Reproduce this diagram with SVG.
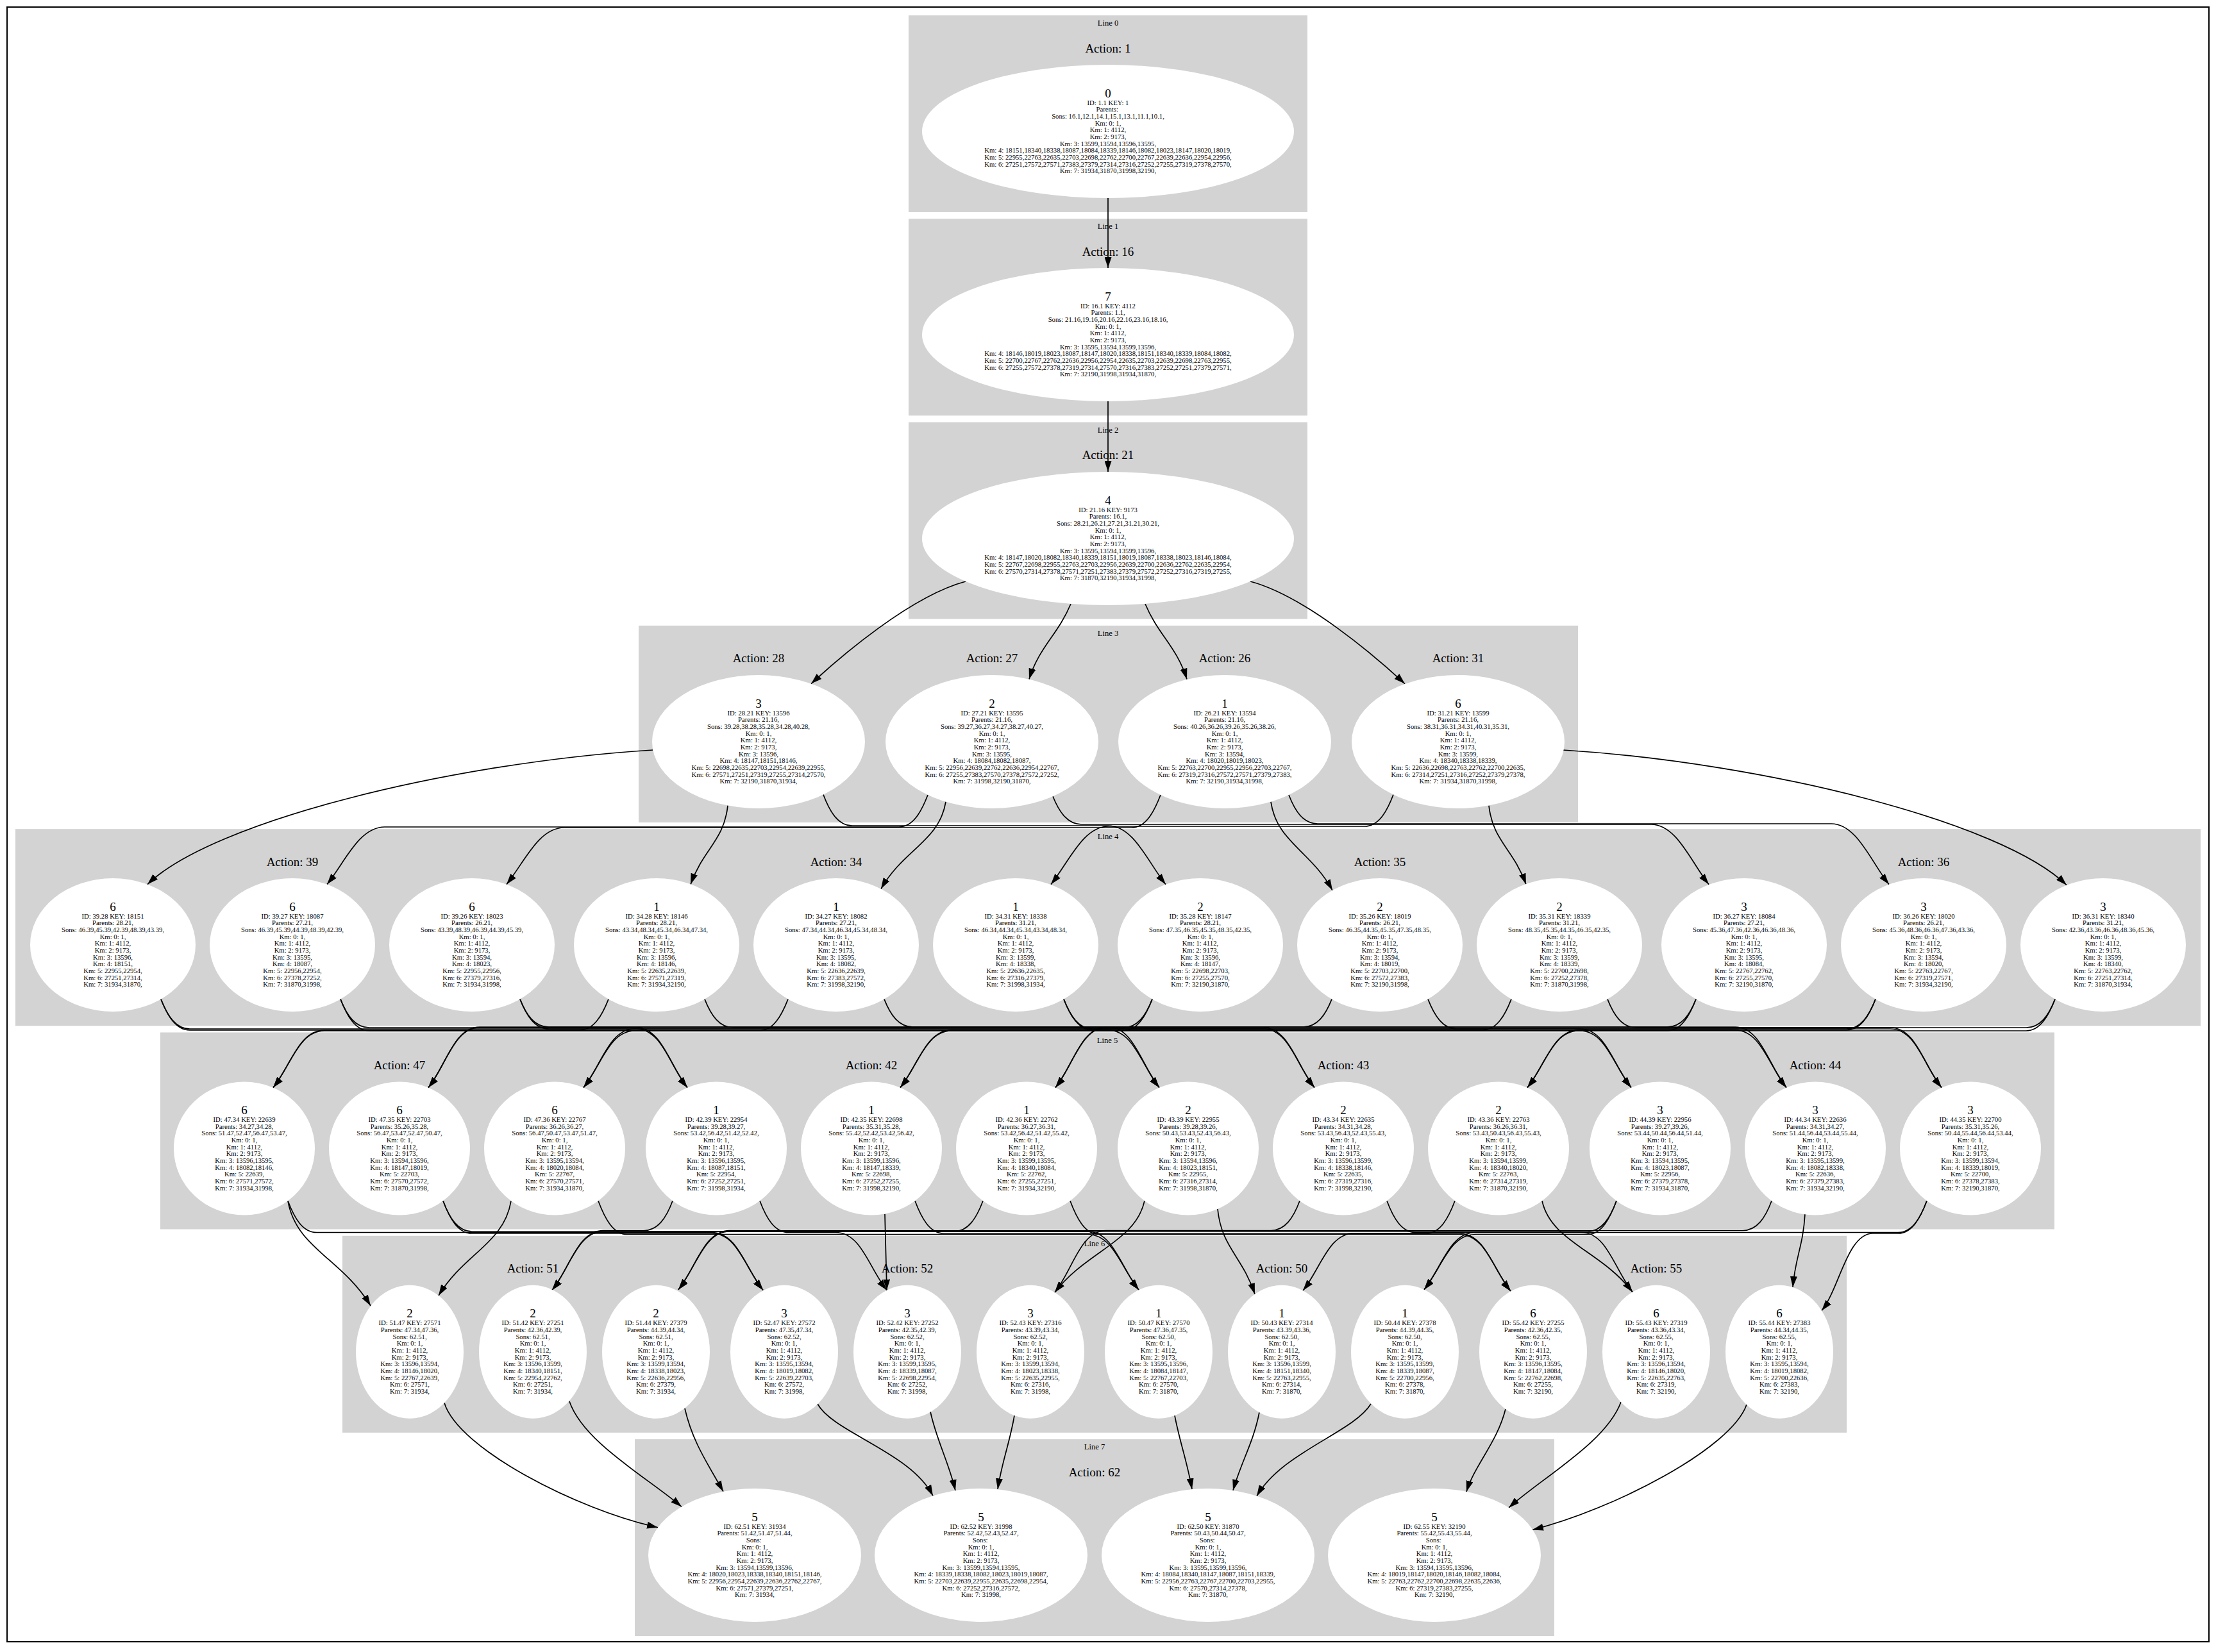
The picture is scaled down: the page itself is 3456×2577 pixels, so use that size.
<svg xmlns="http://www.w3.org/2000/svg" width="3456" height="2577" viewBox="0 0 3456 2577">
<defs>
<style>
.cl{fill:#d3d3d3}
.nd{fill:#fff}
.ln{font-family:"Liberation Serif",serif;font-size:12.6px;text-anchor:middle;fill:#000}
.ac{font-family:"Liberation Serif",serif;font-size:19px;text-anchor:middle;fill:#000}
.bg{font-family:"Liberation Serif",serif;font-size:19px;text-anchor:middle;fill:#000}
.t{font-family:"Liberation Serif",serif;font-size:10.7px;text-anchor:middle;fill:#000}
.e{fill:none;stroke:#000;stroke-width:1.7;marker-end:url(#ah)}
</style>
<marker id="ah" markerUnits="userSpaceOnUse" markerWidth="17" markerHeight="11" viewBox="0 0 17 11" refX="17" refY="5.5" orient="auto"><path d="M0,0L17,5.5L0,11z" fill="#000"/></marker>
</defs>
<rect x="0" y="0" width="3456" height="2577" fill="#fff"/>
<rect x="11" y="11" width="3434" height="2550" fill="none" stroke="#000" stroke-width="2"/>
<g id="clusters">
<rect class="cl" x="1417" y="24" width="622" height="307"/>
<text class="ln" x="1728" y="40">Line 0</text>
<text class="ac" x="1728" y="81.5">Action: 1</text>
<rect class="cl" x="1417" y="341.3" width="622" height="307"/>
<text class="ln" x="1728" y="357.3">Line 1</text>
<text class="ac" x="1728" y="398.8">Action: 16</text>
<rect class="cl" x="1417" y="658.6" width="622" height="307"/>
<text class="ln" x="1728" y="674.6">Line 2</text>
<text class="ac" x="1728" y="716.1">Action: 21</text>
<rect class="cl" x="996" y="975.9" width="1465" height="307"/>
<text class="ln" x="1728" y="991.9">Line 3</text>
<text class="ac" x="1183" y="1033.4">Action: 28</text>
<text class="ac" x="1547" y="1033.4">Action: 27</text>
<text class="ac" x="1910" y="1033.4">Action: 26</text>
<text class="ac" x="2274" y="1033.4">Action: 31</text>
<rect class="cl" x="24" y="1293.2" width="3408" height="307"/>
<text class="ln" x="1728" y="1309.2">Line 4</text>
<text class="ac" x="456" y="1350.7">Action: 39</text>
<text class="ac" x="1304" y="1350.7">Action: 34</text>
<text class="ac" x="2152" y="1350.7">Action: 35</text>
<text class="ac" x="3000" y="1350.7">Action: 36</text>
<rect class="cl" x="250" y="1610.5" width="2954" height="307"/>
<text class="ln" x="1727" y="1626.5">Line 5</text>
<text class="ac" x="623" y="1668">Action: 47</text>
<text class="ac" x="1359" y="1668">Action: 42</text>
<text class="ac" x="2095" y="1668">Action: 43</text>
<text class="ac" x="2831" y="1668">Action: 44</text>
<rect class="cl" x="534" y="1927.8" width="2346" height="307"/>
<text class="ln" x="1707" y="1943.8">Line 6</text>
<text class="ac" x="831" y="1985.3">Action: 51</text>
<text class="ac" x="1415" y="1985.3">Action: 52</text>
<text class="ac" x="1999" y="1985.3">Action: 50</text>
<text class="ac" x="2583" y="1985.3">Action: 55</text>
<rect class="cl" x="990" y="2245.1" width="1434" height="307"/>
<text class="ln" x="1707" y="2261.1">Line 7</text>
<text class="ac" x="1707" y="2302.6">Action: 62</text>
</g>
<g id="connectors">
<path class="e" d="M1728,309 L1728,418"/>
<path class="e" d="M1728,626 L1728,736"/>
<path class="e" d="M1506,907 C1420,930 1310,1025 1265,1066.6"/>
<path class="e" d="M1670,942 C1650,990 1620,1010 1605,1059.6"/>
<path class="e" d="M1786,942 C1806,990 1836,1010 1851,1059.6"/>
<path class="e" d="M1950,907 C2036,930 2146,1025 2191,1066.6"/>
<path class="e" d="M1018,1170 C700,1190 330,1282 230,1379.6"/>
<path class="e" d="M1135,1256.6 C1129,1312 1097,1324 1077,1379.6"/>
<path class="e" d="M1284,1239.5 C1294,1266 1307,1288 1329,1288 L1728,1288 C1768,1288 1790,1344.6 1818,1379.6"/>
<path class="e" d="M1447,1240 C1437,1266 1424,1290 1402,1290 L600,1290 C560,1290 538,1344.6 510,1379.6"/>
<path class="e" d="M1475,1250.7 C1465,1312 1409,1325 1374,1386.6"/>
<path class="e" d="M1642,1242.3 C1652,1267 1665,1286 1687,1286 L2575,1286 C2615,1286 2637,1344.6 2665,1379.6"/>
<path class="e" d="M1810,1240 C1800,1266 1787,1291 1765,1291 L880,1291 C840,1291 818,1344.6 790,1379.6"/>
<path class="e" d="M1982,1250.7 C1991,1313 2044,1327 2078,1388.8"/>
<path class="e" d="M2010,1240 C2020,1266 2033,1285 2055,1285 L2856,1285 C2896,1285 2918,1344.6 2946,1379.6"/>
<path class="e" d="M2173,1239.5 C2163,1266 2150,1289 2128,1289 L1729,1289 C1689,1289 1667,1344.6 1639,1379.6"/>
<path class="e" d="M2322,1256.6 C2328,1312 2360,1324 2380,1379.6"/>
<path class="e" d="M2438,1170 C2756,1190 3123,1283 3223,1380.7"/>
<path class="e" d="M251,1558.6 C261,1584 274,1605 296,1605 L992,1605 C1032,1605 1044,1661.6 1072,1696.6"/>
<path class="e" d="M251,1558.6 C261,1584 274,1607 296,1607 L1728,1607 C1768,1607 1780,1661.6 1808,1696.6"/>
<path class="e" d="M531,1558.6 C541,1584 554,1603 576,1603 L992,1603 C1032,1603 1044,1661.6 1072,1696.6"/>
<path class="e" d="M531,1558.6 C541,1584 554,1608 576,1608 L2464,1608 C2504,1608 2516,1661.6 2544,1696.6"/>
<path class="e" d="M811,1558.6 C821,1584 834,1602 856,1602 L1728,1602 C1768,1602 1780,1661.6 1808,1696.6"/>
<path class="e" d="M811,1558.6 C821,1584 834,1605 856,1605 L2464,1605 C2504,1605 2516,1661.6 2544,1696.6"/>
<path class="e" d="M949,1558.6 C939,1584 926,1607 904,1607 L506,1607 C466,1607 454,1661.6 426,1696.6"/>
<path class="e" d="M1099,1558.6 C1109,1584 1122,1603 1144,1603 L1970,1603 C2010,1603 2022,1661.6 2050,1696.6"/>
<path class="e" d="M1229,1558.6 C1219,1584 1206,1608 1184,1608 L506,1608 C466,1608 454,1661.6 426,1696.6"/>
<path class="e" d="M1379,1558.6 C1389,1584 1402,1602 1424,1602 L2706,1602 C2746,1602 2758,1661.6 2786,1696.6"/>
<path class="e" d="M1659,1558.6 C1669,1584 1682,1605 1704,1605 L1970,1605 C2010,1605 2022,1661.6 2050,1696.6"/>
<path class="e" d="M1659,1558.6 C1669,1584 1682,1607 1704,1607 L2706,1607 C2746,1607 2758,1661.6 2786,1696.6"/>
<path class="e" d="M1797,1558.6 C1787,1584 1774,1603 1752,1603 L748,1603 C708,1603 696,1661.6 668,1696.6"/>
<path class="e" d="M1797,1558.6 C1787,1584 1774,1608 1752,1608 L1484,1608 C1444,1608 1432,1661.6 1404,1696.6"/>
<path class="e" d="M2077,1558.6 C2067,1584 2054,1602 2032,1602 L748,1602 C708,1602 696,1661.6 668,1696.6"/>
<path class="e" d="M2227,1558.6 C2237,1584 2250,1605 2272,1605 L2948,1605 C2988,1605 3000,1661.6 3028,1696.6"/>
<path class="e" d="M2357,1558.6 C2347,1584 2334,1607 2312,1607 L1484,1607 C1444,1607 1432,1661.6 1404,1696.6"/>
<path class="e" d="M2507,1558.6 C2517,1584 2530,1603 2552,1603 L2948,1603 C2988,1603 3000,1661.6 3028,1696.6"/>
<path class="e" d="M2645,1558.6 C2635,1584 2622,1608 2600,1608 L990,1608 C950,1608 938,1661.6 910,1696.6"/>
<path class="e" d="M2645,1558.6 C2635,1584 2622,1602 2600,1602 L1726,1602 C1686,1602 1674,1661.6 1646,1696.6"/>
<path class="e" d="M2925,1558.6 C2915,1584 2902,1605 2880,1605 L990,1605 C950,1605 938,1661.6 910,1696.6"/>
<path class="e" d="M2925,1558.6 C2915,1584 2902,1607 2880,1607 L2462,1607 C2422,1607 2410,1661.6 2382,1696.6"/>
<path class="e" d="M3205,1558.6 C3195,1584 3182,1603 3160,1603 L1726,1603 C1686,1603 1674,1661.6 1646,1696.6"/>
<path class="e" d="M3205,1558.6 C3195,1584 3182,1608 3160,1608 L2462,1608 C2422,1608 2410,1661.6 2382,1696.6"/>
<path class="e" d="M449,1873.3 C462,1947 533,1963 578,2037"/>
<path class="e" d="M449,1873.3 C459,1900 472,1922.5 494,1922.5 L1110,1922.5 C1150,1922.5 1162,1977.6 1190,2012.6"/>
<path class="e" d="M691,1873.3 C701,1900 714,1924 736,1924 L1110,1924 C1150,1924 1162,1977.6 1190,2012.6"/>
<path class="e" d="M691,1873.3 C701,1900 714,1921 736,1921 L1696,1921 C1736,1921 1748,1977.1 1776,2012.1"/>
<path class="e" d="M797,1873.3 C786,1940 724,1955 684,2021"/>
<path class="e" d="M933,1873.3 C943,1900 956,1925.5 978,1925.5 L1696,1925.5 C1736,1925.5 1748,1977.1 1776,2012.1"/>
<path class="e" d="M1049,1873.3 C1039,1900 1026,1919.5 1004,1919.5 L941,1919.5 C901,1919.5 889,1977.6 861,2012.6"/>
<path class="e" d="M1185,1873.3 C1195,1900 1208,1922.5 1230,1922.5 L1303,1922.5 C1343,1922.5 1355,1977.6 1383,2012.6"/>
<path class="e" d="M1380,1893.8 C1381,1947 1382,1960 1383,2012.6"/>
<path class="e" d="M1427,1873.3 C1437,1900 1450,1924 1472,1924 L2276,1924 C2316,1924 2328,1979 2356,2014"/>
<path class="e" d="M1533,1873.3 C1523,1900 1510,1921 1488,1921 L941,1921 C901,1921 889,1977.6 861,2012.6"/>
<path class="e" d="M1669,1873.3 C1679,1900 1692,1925.5 1714,1925.5 L2276,1925.5 C2316,1925.5 2328,1979 2356,2014"/>
<path class="e" d="M1785,1873.3 C1771,1937 1694,1952 1645,2016"/>
<path class="e" d="M1899,1886 C1905,1946 1937,1959 1957,2018.7"/>
<path class="e" d="M2027,1873.3 C2017,1900 2004,1919.5 1982,1919.5 L1725,1919.5 C1685,1919.5 1673,1981 1645,2016"/>
<path class="e" d="M2163,1873.3 C2173,1900 2186,1922.5 2208,1922.5 L2466,1922.5 C2506,1922.5 2518,1980.4 2546,2015.4"/>
<path class="e" d="M2269,1873.3 C2259,1900 2246,1924 2224,1924 L2112,1924 C2072,1924 2060,1978.2 2032,2013.2"/>
<path class="e" d="M2405,1873.3 C2419,1937 2497,1951 2546,2015.4"/>
<path class="e" d="M2521,1873.3 C2511,1900 2498,1921 2476,1921 L1138,1921 C1098,1921 1086,1976.7 1058,2011.7"/>
<path class="e" d="M2521,1873.3 C2511,1900 2498,1925.5 2476,1925.5 L2301,1925.5 C2261,1925.5 2249,1976.7 2221,2011.7"/>
<path class="e" d="M2763,1873.3 C2753,1900 2740,1919.5 2718,1919.5 L1138,1919.5 C1098,1919.5 1086,1976.7 1058,2011.7"/>
<path class="e" d="M2815,1893.8 C2812,1945 2800,1960 2796,2008"/>
<path class="e" d="M3005,1873.3 C2995,1900 2982,1922.5 2960,1922.5 L2301,1922.5 C2261,1922.5 2249,1976.7 2221,2011.7"/>
<path class="e" d="M3005,1873.3 C2995,1900 2982,1924 2960,1924 L2921,1924 C2881,1924 2869,2009.5 2841,2044.5"/>
<path class="e" d="M693,2188.5 C715,2260 900,2355 1026,2382.8"/>
<path class="e" d="M888,2186 C910,2250 1010,2305 1063,2350.4"/>
<path class="e" d="M1068,2197 C1080,2250 1105,2285 1128,2326.7"/>
<path class="e" d="M1275,2190 C1300,2235 1420,2265 1455,2333.4"/>
<path class="e" d="M1451,2202 C1460,2245 1480,2282 1490,2325.2"/>
<path class="e" d="M1582,2208 C1575,2250 1562,2282 1556,2323.2"/>
<path class="e" d="M1832,2208 C1840,2250 1852,2282 1859,2323.2"/>
<path class="e" d="M1964,2203 C1955,2250 1935,2282 1923,2325"/>
<path class="e" d="M2138,2190 C2110,2235 2000,2265 1960,2333.7"/>
<path class="e" d="M2348,2198 C2335,2250 2300,2285 2287,2326.9"/>
<path class="e" d="M2528,2187 C2505,2250 2405,2305 2353,2351.9"/>
<path class="e" d="M2724,2191 C2700,2260 2515,2355 2390,2386.4"/>
</g>
<g id="nodes">
<g id="n1_1" transform="translate(1728,205)"><ellipse class="nd" rx="290" ry="104"/><text class="bg" y="-53.5">0</text><text class="t" y="-41.5"><tspan x="0">ID: 1.1 KEY: 1</tspan><tspan x="0" dy="10.67">Parents: </tspan><tspan x="0" dy="10.67">Sons: 16.1,12.1,14.1,15.1,13.1,11.1,10.1,</tspan><tspan x="0" dy="10.67">Km: 0: 1,</tspan><tspan x="0" dy="10.67">Km: 1: 4112,</tspan><tspan x="0" dy="10.67">Km: 2: 9173,</tspan><tspan x="0" dy="10.67">Km: 3: 13599,13594,13596,13595,</tspan><tspan x="0" dy="10.67">Km: 4: 18151,18340,18338,18087,18084,18339,18146,18082,18023,18147,18020,18019,</tspan><tspan x="0" dy="10.67">Km: 5: 22955,22763,22635,22703,22698,22762,22700,22767,22639,22636,22954,22956,</tspan><tspan x="0" dy="10.67">Km: 6: 27251,27572,27571,27383,27379,27314,27316,27252,27255,27319,27378,27570,</tspan><tspan x="0" dy="10.67">Km: 7: 31934,31870,31998,32190,</tspan></text></g>
<g id="n16_1" transform="translate(1728,522)"><ellipse class="nd" rx="290" ry="104"/><text class="bg" y="-53.5">7</text><text class="t" y="-41.5"><tspan x="0">ID: 16.1 KEY: 4112</tspan><tspan x="0" dy="10.67">Parents: 1.1,</tspan><tspan x="0" dy="10.67">Sons: 21.16,19.16,20.16,22.16,23.16,18.16,</tspan><tspan x="0" dy="10.67">Km: 0: 1,</tspan><tspan x="0" dy="10.67">Km: 1: 4112,</tspan><tspan x="0" dy="10.67">Km: 2: 9173,</tspan><tspan x="0" dy="10.67">Km: 3: 13595,13594,13599,13596,</tspan><tspan x="0" dy="10.67">Km: 4: 18146,18019,18023,18087,18147,18020,18338,18151,18340,18339,18084,18082,</tspan><tspan x="0" dy="10.67">Km: 5: 22700,22767,22762,22636,22956,22954,22635,22703,22639,22698,22763,22955,</tspan><tspan x="0" dy="10.67">Km: 6: 27255,27572,27378,27319,27314,27570,27316,27383,27252,27251,27379,27571,</tspan><tspan x="0" dy="10.67">Km: 7: 32190,31998,31934,31870,</tspan></text></g>
<g id="n21_16" transform="translate(1728,840)"><ellipse class="nd" rx="290" ry="104"/><text class="bg" y="-53.5">4</text><text class="t" y="-41.5"><tspan x="0">ID: 21.16 KEY: 9173</tspan><tspan x="0" dy="10.67">Parents: 16.1,</tspan><tspan x="0" dy="10.67">Sons: 28.21,26.21,27.21,31.21,30.21,</tspan><tspan x="0" dy="10.67">Km: 0: 1,</tspan><tspan x="0" dy="10.67">Km: 1: 4112,</tspan><tspan x="0" dy="10.67">Km: 2: 9173,</tspan><tspan x="0" dy="10.67">Km: 3: 13595,13594,13599,13596,</tspan><tspan x="0" dy="10.67">Km: 4: 18147,18020,18082,18340,18339,18151,18019,18087,18338,18023,18146,18084,</tspan><tspan x="0" dy="10.67">Km: 5: 22767,22698,22955,22763,22703,22956,22639,22700,22636,22762,22635,22954,</tspan><tspan x="0" dy="10.67">Km: 6: 27570,27314,27378,27571,27251,27383,27379,27572,27252,27316,27319,27255,</tspan><tspan x="0" dy="10.67">Km: 7: 31870,32190,31934,31998,</tspan></text></g>
<g id="n28_21" transform="translate(1183,1157)"><ellipse class="nd" rx="166" ry="104"/><text class="bg" y="-53.5">3</text><text class="t" y="-41.5"><tspan x="0">ID: 28.21 KEY: 13596</tspan><tspan x="0" dy="10.67">Parents: 21.16,</tspan><tspan x="0" dy="10.67">Sons: 39.28,38.28,35.28,34.28,40.28,</tspan><tspan x="0" dy="10.67">Km: 0: 1,</tspan><tspan x="0" dy="10.67">Km: 1: 4112,</tspan><tspan x="0" dy="10.67">Km: 2: 9173,</tspan><tspan x="0" dy="10.67">Km: 3: 13596,</tspan><tspan x="0" dy="10.67">Km: 4: 18147,18151,18146,</tspan><tspan x="0" dy="10.67">Km: 5: 22698,22635,22703,22954,22639,22955,</tspan><tspan x="0" dy="10.67">Km: 6: 27571,27251,27319,27255,27314,27570,</tspan><tspan x="0" dy="10.67">Km: 7: 32190,31870,31934,</tspan></text></g>
<g id="n27_21" transform="translate(1547,1157)"><ellipse class="nd" rx="166" ry="104"/><text class="bg" y="-53.5">2</text><text class="t" y="-41.5"><tspan x="0">ID: 27.21 KEY: 13595</tspan><tspan x="0" dy="10.67">Parents: 21.16,</tspan><tspan x="0" dy="10.67">Sons: 39.27,36.27,34.27,38.27,40.27,</tspan><tspan x="0" dy="10.67">Km: 0: 1,</tspan><tspan x="0" dy="10.67">Km: 1: 4112,</tspan><tspan x="0" dy="10.67">Km: 2: 9173,</tspan><tspan x="0" dy="10.67">Km: 3: 13595,</tspan><tspan x="0" dy="10.67">Km: 4: 18084,18082,18087,</tspan><tspan x="0" dy="10.67">Km: 5: 22956,22639,22762,22636,22954,22767,</tspan><tspan x="0" dy="10.67">Km: 6: 27255,27383,27570,27378,27572,27252,</tspan><tspan x="0" dy="10.67">Km: 7: 31998,32190,31870,</tspan></text></g>
<g id="n26_21" transform="translate(1910,1157)"><ellipse class="nd" rx="166" ry="104"/><text class="bg" y="-53.5">1</text><text class="t" y="-41.5"><tspan x="0">ID: 26.21 KEY: 13594</tspan><tspan x="0" dy="10.67">Parents: 21.16,</tspan><tspan x="0" dy="10.67">Sons: 40.26,36.26,39.26,35.26,38.26,</tspan><tspan x="0" dy="10.67">Km: 0: 1,</tspan><tspan x="0" dy="10.67">Km: 1: 4112,</tspan><tspan x="0" dy="10.67">Km: 2: 9173,</tspan><tspan x="0" dy="10.67">Km: 3: 13594,</tspan><tspan x="0" dy="10.67">Km: 4: 18020,18019,18023,</tspan><tspan x="0" dy="10.67">Km: 5: 22763,22700,22955,22956,22703,22767,</tspan><tspan x="0" dy="10.67">Km: 6: 27319,27316,27572,27571,27379,27383,</tspan><tspan x="0" dy="10.67">Km: 7: 32190,31934,31998,</tspan></text></g>
<g id="n31_21" transform="translate(2274,1157)"><ellipse class="nd" rx="166" ry="104"/><text class="bg" y="-53.5">6</text><text class="t" y="-41.5"><tspan x="0">ID: 31.21 KEY: 13599</tspan><tspan x="0" dy="10.67">Parents: 21.16,</tspan><tspan x="0" dy="10.67">Sons: 38.31,36.31,34.31,40.31,35.31,</tspan><tspan x="0" dy="10.67">Km: 0: 1,</tspan><tspan x="0" dy="10.67">Km: 1: 4112,</tspan><tspan x="0" dy="10.67">Km: 2: 9173,</tspan><tspan x="0" dy="10.67">Km: 3: 13599,</tspan><tspan x="0" dy="10.67">Km: 4: 18340,18338,18339,</tspan><tspan x="0" dy="10.67">Km: 5: 22636,22698,22763,22762,22700,22635,</tspan><tspan x="0" dy="10.67">Km: 6: 27314,27251,27316,27252,27379,27378,</tspan><tspan x="0" dy="10.67">Km: 7: 31934,31870,31998,</tspan></text></g>
<g id="n39_28" transform="translate(176,1474)"><ellipse class="nd" rx="129" ry="104"/><text class="bg" y="-53.5">6</text><text class="t" y="-41.5"><tspan x="0">ID: 39.28 KEY: 18151</tspan><tspan x="0" dy="10.67">Parents: 28.21,</tspan><tspan x="0" dy="10.67">Sons: 46.39,45.39,42.39,48.39,43.39,</tspan><tspan x="0" dy="10.67">Km: 0: 1,</tspan><tspan x="0" dy="10.67">Km: 1: 4112,</tspan><tspan x="0" dy="10.67">Km: 2: 9173,</tspan><tspan x="0" dy="10.67">Km: 3: 13596,</tspan><tspan x="0" dy="10.67">Km: 4: 18151,</tspan><tspan x="0" dy="10.67">Km: 5: 22955,22954,</tspan><tspan x="0" dy="10.67">Km: 6: 27251,27314,</tspan><tspan x="0" dy="10.67">Km: 7: 31934,31870,</tspan></text></g>
<g id="n39_27" transform="translate(456,1474)"><ellipse class="nd" rx="129" ry="104"/><text class="bg" y="-53.5">6</text><text class="t" y="-41.5"><tspan x="0">ID: 39.27 KEY: 18087</tspan><tspan x="0" dy="10.67">Parents: 27.21,</tspan><tspan x="0" dy="10.67">Sons: 46.39,45.39,44.39,48.39,42.39,</tspan><tspan x="0" dy="10.67">Km: 0: 1,</tspan><tspan x="0" dy="10.67">Km: 1: 4112,</tspan><tspan x="0" dy="10.67">Km: 2: 9173,</tspan><tspan x="0" dy="10.67">Km: 3: 13595,</tspan><tspan x="0" dy="10.67">Km: 4: 18087,</tspan><tspan x="0" dy="10.67">Km: 5: 22956,22954,</tspan><tspan x="0" dy="10.67">Km: 6: 27378,27252,</tspan><tspan x="0" dy="10.67">Km: 7: 31870,31998,</tspan></text></g>
<g id="n39_26" transform="translate(736,1474)"><ellipse class="nd" rx="129" ry="104"/><text class="bg" y="-53.5">6</text><text class="t" y="-41.5"><tspan x="0">ID: 39.26 KEY: 18023</tspan><tspan x="0" dy="10.67">Parents: 26.21,</tspan><tspan x="0" dy="10.67">Sons: 43.39,48.39,46.39,44.39,45.39,</tspan><tspan x="0" dy="10.67">Km: 0: 1,</tspan><tspan x="0" dy="10.67">Km: 1: 4112,</tspan><tspan x="0" dy="10.67">Km: 2: 9173,</tspan><tspan x="0" dy="10.67">Km: 3: 13594,</tspan><tspan x="0" dy="10.67">Km: 4: 18023,</tspan><tspan x="0" dy="10.67">Km: 5: 22955,22956,</tspan><tspan x="0" dy="10.67">Km: 6: 27379,27316,</tspan><tspan x="0" dy="10.67">Km: 7: 31934,31998,</tspan></text></g>
<g id="n34_28" transform="translate(1024,1474)"><ellipse class="nd" rx="129" ry="104"/><text class="bg" y="-53.5">1</text><text class="t" y="-41.5"><tspan x="0">ID: 34.28 KEY: 18146</tspan><tspan x="0" dy="10.67">Parents: 28.21,</tspan><tspan x="0" dy="10.67">Sons: 43.34,48.34,45.34,46.34,47.34,</tspan><tspan x="0" dy="10.67">Km: 0: 1,</tspan><tspan x="0" dy="10.67">Km: 1: 4112,</tspan><tspan x="0" dy="10.67">Km: 2: 9173,</tspan><tspan x="0" dy="10.67">Km: 3: 13596,</tspan><tspan x="0" dy="10.67">Km: 4: 18146,</tspan><tspan x="0" dy="10.67">Km: 5: 22635,22639,</tspan><tspan x="0" dy="10.67">Km: 6: 27571,27319,</tspan><tspan x="0" dy="10.67">Km: 7: 31934,32190,</tspan></text></g>
<g id="n34_27" transform="translate(1304,1474)"><ellipse class="nd" rx="129" ry="104"/><text class="bg" y="-53.5">1</text><text class="t" y="-41.5"><tspan x="0">ID: 34.27 KEY: 18082</tspan><tspan x="0" dy="10.67">Parents: 27.21,</tspan><tspan x="0" dy="10.67">Sons: 47.34,44.34,46.34,45.34,48.34,</tspan><tspan x="0" dy="10.67">Km: 0: 1,</tspan><tspan x="0" dy="10.67">Km: 1: 4112,</tspan><tspan x="0" dy="10.67">Km: 2: 9173,</tspan><tspan x="0" dy="10.67">Km: 3: 13595,</tspan><tspan x="0" dy="10.67">Km: 4: 18082,</tspan><tspan x="0" dy="10.67">Km: 5: 22636,22639,</tspan><tspan x="0" dy="10.67">Km: 6: 27383,27572,</tspan><tspan x="0" dy="10.67">Km: 7: 31998,32190,</tspan></text></g>
<g id="n34_31" transform="translate(1584,1474)"><ellipse class="nd" rx="129" ry="104"/><text class="bg" y="-53.5">1</text><text class="t" y="-41.5"><tspan x="0">ID: 34.31 KEY: 18338</tspan><tspan x="0" dy="10.67">Parents: 31.21,</tspan><tspan x="0" dy="10.67">Sons: 46.34,44.34,45.34,43.34,48.34,</tspan><tspan x="0" dy="10.67">Km: 0: 1,</tspan><tspan x="0" dy="10.67">Km: 1: 4112,</tspan><tspan x="0" dy="10.67">Km: 2: 9173,</tspan><tspan x="0" dy="10.67">Km: 3: 13599,</tspan><tspan x="0" dy="10.67">Km: 4: 18338,</tspan><tspan x="0" dy="10.67">Km: 5: 22636,22635,</tspan><tspan x="0" dy="10.67">Km: 6: 27316,27379,</tspan><tspan x="0" dy="10.67">Km: 7: 31998,31934,</tspan></text></g>
<g id="n35_28" transform="translate(1872,1474)"><ellipse class="nd" rx="129" ry="104"/><text class="bg" y="-53.5">2</text><text class="t" y="-41.5"><tspan x="0">ID: 35.28 KEY: 18147</tspan><tspan x="0" dy="10.67">Parents: 28.21,</tspan><tspan x="0" dy="10.67">Sons: 47.35,46.35,45.35,48.35,42.35,</tspan><tspan x="0" dy="10.67">Km: 0: 1,</tspan><tspan x="0" dy="10.67">Km: 1: 4112,</tspan><tspan x="0" dy="10.67">Km: 2: 9173,</tspan><tspan x="0" dy="10.67">Km: 3: 13596,</tspan><tspan x="0" dy="10.67">Km: 4: 18147,</tspan><tspan x="0" dy="10.67">Km: 5: 22698,22703,</tspan><tspan x="0" dy="10.67">Km: 6: 27255,27570,</tspan><tspan x="0" dy="10.67">Km: 7: 32190,31870,</tspan></text></g>
<g id="n35_26" transform="translate(2152,1474)"><ellipse class="nd" rx="129" ry="104"/><text class="bg" y="-53.5">2</text><text class="t" y="-41.5"><tspan x="0">ID: 35.26 KEY: 18019</tspan><tspan x="0" dy="10.67">Parents: 26.21,</tspan><tspan x="0" dy="10.67">Sons: 46.35,44.35,45.35,47.35,48.35,</tspan><tspan x="0" dy="10.67">Km: 0: 1,</tspan><tspan x="0" dy="10.67">Km: 1: 4112,</tspan><tspan x="0" dy="10.67">Km: 2: 9173,</tspan><tspan x="0" dy="10.67">Km: 3: 13594,</tspan><tspan x="0" dy="10.67">Km: 4: 18019,</tspan><tspan x="0" dy="10.67">Km: 5: 22703,22700,</tspan><tspan x="0" dy="10.67">Km: 6: 27572,27383,</tspan><tspan x="0" dy="10.67">Km: 7: 32190,31998,</tspan></text></g>
<g id="n35_31" transform="translate(2432,1474)"><ellipse class="nd" rx="129" ry="104"/><text class="bg" y="-53.5">2</text><text class="t" y="-41.5"><tspan x="0">ID: 35.31 KEY: 18339</tspan><tspan x="0" dy="10.67">Parents: 31.21,</tspan><tspan x="0" dy="10.67">Sons: 48.35,45.35,44.35,46.35,42.35,</tspan><tspan x="0" dy="10.67">Km: 0: 1,</tspan><tspan x="0" dy="10.67">Km: 1: 4112,</tspan><tspan x="0" dy="10.67">Km: 2: 9173,</tspan><tspan x="0" dy="10.67">Km: 3: 13599,</tspan><tspan x="0" dy="10.67">Km: 4: 18339,</tspan><tspan x="0" dy="10.67">Km: 5: 22700,22698,</tspan><tspan x="0" dy="10.67">Km: 6: 27252,27378,</tspan><tspan x="0" dy="10.67">Km: 7: 31870,31998,</tspan></text></g>
<g id="n36_27" transform="translate(2720,1474)"><ellipse class="nd" rx="129" ry="104"/><text class="bg" y="-53.5">3</text><text class="t" y="-41.5"><tspan x="0">ID: 36.27 KEY: 18084</tspan><tspan x="0" dy="10.67">Parents: 27.21,</tspan><tspan x="0" dy="10.67">Sons: 45.36,47.36,42.36,46.36,48.36,</tspan><tspan x="0" dy="10.67">Km: 0: 1,</tspan><tspan x="0" dy="10.67">Km: 1: 4112,</tspan><tspan x="0" dy="10.67">Km: 2: 9173,</tspan><tspan x="0" dy="10.67">Km: 3: 13595,</tspan><tspan x="0" dy="10.67">Km: 4: 18084,</tspan><tspan x="0" dy="10.67">Km: 5: 22767,22762,</tspan><tspan x="0" dy="10.67">Km: 6: 27255,27570,</tspan><tspan x="0" dy="10.67">Km: 7: 32190,31870,</tspan></text></g>
<g id="n36_26" transform="translate(3000,1474)"><ellipse class="nd" rx="129" ry="104"/><text class="bg" y="-53.5">3</text><text class="t" y="-41.5"><tspan x="0">ID: 36.26 KEY: 18020</tspan><tspan x="0" dy="10.67">Parents: 26.21,</tspan><tspan x="0" dy="10.67">Sons: 45.36,48.36,46.36,47.36,43.36,</tspan><tspan x="0" dy="10.67">Km: 0: 1,</tspan><tspan x="0" dy="10.67">Km: 1: 4112,</tspan><tspan x="0" dy="10.67">Km: 2: 9173,</tspan><tspan x="0" dy="10.67">Km: 3: 13594,</tspan><tspan x="0" dy="10.67">Km: 4: 18020,</tspan><tspan x="0" dy="10.67">Km: 5: 22763,22767,</tspan><tspan x="0" dy="10.67">Km: 6: 27319,27571,</tspan><tspan x="0" dy="10.67">Km: 7: 31934,32190,</tspan></text></g>
<g id="n36_31" transform="translate(3280,1474)"><ellipse class="nd" rx="129" ry="104"/><text class="bg" y="-53.5">3</text><text class="t" y="-41.5"><tspan x="0">ID: 36.31 KEY: 18340</tspan><tspan x="0" dy="10.67">Parents: 31.21,</tspan><tspan x="0" dy="10.67">Sons: 42.36,43.36,46.36,48.36,45.36,</tspan><tspan x="0" dy="10.67">Km: 0: 1,</tspan><tspan x="0" dy="10.67">Km: 1: 4112,</tspan><tspan x="0" dy="10.67">Km: 2: 9173,</tspan><tspan x="0" dy="10.67">Km: 3: 13599,</tspan><tspan x="0" dy="10.67">Km: 4: 18340,</tspan><tspan x="0" dy="10.67">Km: 5: 22763,22762,</tspan><tspan x="0" dy="10.67">Km: 6: 27251,27314,</tspan><tspan x="0" dy="10.67">Km: 7: 31870,31934,</tspan></text></g>
<g id="n47_34" transform="translate(381,1791.5)"><ellipse class="nd" rx="110" ry="104"/><text class="bg" y="-53.5">6</text><text class="t" y="-41.5"><tspan x="0">ID: 47.34 KEY: 22639</tspan><tspan x="0" dy="10.67">Parents: 34.27,34.28,</tspan><tspan x="0" dy="10.67">Sons: 51.47,52.47,56.47,53.47,</tspan><tspan x="0" dy="10.67">Km: 0: 1,</tspan><tspan x="0" dy="10.67">Km: 1: 4112,</tspan><tspan x="0" dy="10.67">Km: 2: 9173,</tspan><tspan x="0" dy="10.67">Km: 3: 13596,13595,</tspan><tspan x="0" dy="10.67">Km: 4: 18082,18146,</tspan><tspan x="0" dy="10.67">Km: 5: 22639,</tspan><tspan x="0" dy="10.67">Km: 6: 27571,27572,</tspan><tspan x="0" dy="10.67">Km: 7: 31934,31998,</tspan></text></g>
<g id="n47_35" transform="translate(623,1791.5)"><ellipse class="nd" rx="110" ry="104"/><text class="bg" y="-53.5">6</text><text class="t" y="-41.5"><tspan x="0">ID: 47.35 KEY: 22703</tspan><tspan x="0" dy="10.67">Parents: 35.26,35.28,</tspan><tspan x="0" dy="10.67">Sons: 56.47,53.47,52.47,50.47,</tspan><tspan x="0" dy="10.67">Km: 0: 1,</tspan><tspan x="0" dy="10.67">Km: 1: 4112,</tspan><tspan x="0" dy="10.67">Km: 2: 9173,</tspan><tspan x="0" dy="10.67">Km: 3: 13594,13596,</tspan><tspan x="0" dy="10.67">Km: 4: 18147,18019,</tspan><tspan x="0" dy="10.67">Km: 5: 22703,</tspan><tspan x="0" dy="10.67">Km: 6: 27570,27572,</tspan><tspan x="0" dy="10.67">Km: 7: 31870,31998,</tspan></text></g>
<g id="n47_36" transform="translate(865,1791.5)"><ellipse class="nd" rx="110" ry="104"/><text class="bg" y="-53.5">6</text><text class="t" y="-41.5"><tspan x="0">ID: 47.36 KEY: 22767</tspan><tspan x="0" dy="10.67">Parents: 36.26,36.27,</tspan><tspan x="0" dy="10.67">Sons: 56.47,50.47,53.47,51.47,</tspan><tspan x="0" dy="10.67">Km: 0: 1,</tspan><tspan x="0" dy="10.67">Km: 1: 4112,</tspan><tspan x="0" dy="10.67">Km: 2: 9173,</tspan><tspan x="0" dy="10.67">Km: 3: 13595,13594,</tspan><tspan x="0" dy="10.67">Km: 4: 18020,18084,</tspan><tspan x="0" dy="10.67">Km: 5: 22767,</tspan><tspan x="0" dy="10.67">Km: 6: 27570,27571,</tspan><tspan x="0" dy="10.67">Km: 7: 31934,31870,</tspan></text></g>
<g id="n42_39" transform="translate(1117,1791.5)"><ellipse class="nd" rx="110" ry="104"/><text class="bg" y="-53.5">1</text><text class="t" y="-41.5"><tspan x="0">ID: 42.39 KEY: 22954</tspan><tspan x="0" dy="10.67">Parents: 39.28,39.27,</tspan><tspan x="0" dy="10.67">Sons: 53.42,56.42,51.42,52.42,</tspan><tspan x="0" dy="10.67">Km: 0: 1,</tspan><tspan x="0" dy="10.67">Km: 1: 4112,</tspan><tspan x="0" dy="10.67">Km: 2: 9173,</tspan><tspan x="0" dy="10.67">Km: 3: 13596,13595,</tspan><tspan x="0" dy="10.67">Km: 4: 18087,18151,</tspan><tspan x="0" dy="10.67">Km: 5: 22954,</tspan><tspan x="0" dy="10.67">Km: 6: 27252,27251,</tspan><tspan x="0" dy="10.67">Km: 7: 31998,31934,</tspan></text></g>
<g id="n42_35" transform="translate(1359,1791.5)"><ellipse class="nd" rx="110" ry="104"/><text class="bg" y="-53.5">1</text><text class="t" y="-41.5"><tspan x="0">ID: 42.35 KEY: 22698</tspan><tspan x="0" dy="10.67">Parents: 35.31,35.28,</tspan><tspan x="0" dy="10.67">Sons: 55.42,52.42,53.42,56.42,</tspan><tspan x="0" dy="10.67">Km: 0: 1,</tspan><tspan x="0" dy="10.67">Km: 1: 4112,</tspan><tspan x="0" dy="10.67">Km: 2: 9173,</tspan><tspan x="0" dy="10.67">Km: 3: 13599,13596,</tspan><tspan x="0" dy="10.67">Km: 4: 18147,18339,</tspan><tspan x="0" dy="10.67">Km: 5: 22698,</tspan><tspan x="0" dy="10.67">Km: 6: 27252,27255,</tspan><tspan x="0" dy="10.67">Km: 7: 31998,32190,</tspan></text></g>
<g id="n42_36" transform="translate(1601,1791.5)"><ellipse class="nd" rx="110" ry="104"/><text class="bg" y="-53.5">1</text><text class="t" y="-41.5"><tspan x="0">ID: 42.36 KEY: 22762</tspan><tspan x="0" dy="10.67">Parents: 36.27,36.31,</tspan><tspan x="0" dy="10.67">Sons: 53.42,56.42,51.42,55.42,</tspan><tspan x="0" dy="10.67">Km: 0: 1,</tspan><tspan x="0" dy="10.67">Km: 1: 4112,</tspan><tspan x="0" dy="10.67">Km: 2: 9173,</tspan><tspan x="0" dy="10.67">Km: 3: 13599,13595,</tspan><tspan x="0" dy="10.67">Km: 4: 18340,18084,</tspan><tspan x="0" dy="10.67">Km: 5: 22762,</tspan><tspan x="0" dy="10.67">Km: 6: 27255,27251,</tspan><tspan x="0" dy="10.67">Km: 7: 31934,32190,</tspan></text></g>
<g id="n43_39" transform="translate(1853,1791.5)"><ellipse class="nd" rx="110" ry="104"/><text class="bg" y="-53.5">2</text><text class="t" y="-41.5"><tspan x="0">ID: 43.39 KEY: 22955</tspan><tspan x="0" dy="10.67">Parents: 39.28,39.26,</tspan><tspan x="0" dy="10.67">Sons: 50.43,53.43,52.43,56.43,</tspan><tspan x="0" dy="10.67">Km: 0: 1,</tspan><tspan x="0" dy="10.67">Km: 1: 4112,</tspan><tspan x="0" dy="10.67">Km: 2: 9173,</tspan><tspan x="0" dy="10.67">Km: 3: 13594,13596,</tspan><tspan x="0" dy="10.67">Km: 4: 18023,18151,</tspan><tspan x="0" dy="10.67">Km: 5: 22955,</tspan><tspan x="0" dy="10.67">Km: 6: 27316,27314,</tspan><tspan x="0" dy="10.67">Km: 7: 31998,31870,</tspan></text></g>
<g id="n43_34" transform="translate(2095,1791.5)"><ellipse class="nd" rx="110" ry="104"/><text class="bg" y="-53.5">2</text><text class="t" y="-41.5"><tspan x="0">ID: 43.34 KEY: 22635</tspan><tspan x="0" dy="10.67">Parents: 34.31,34.28,</tspan><tspan x="0" dy="10.67">Sons: 53.43,56.43,52.43,55.43,</tspan><tspan x="0" dy="10.67">Km: 0: 1,</tspan><tspan x="0" dy="10.67">Km: 1: 4112,</tspan><tspan x="0" dy="10.67">Km: 2: 9173,</tspan><tspan x="0" dy="10.67">Km: 3: 13596,13599,</tspan><tspan x="0" dy="10.67">Km: 4: 18338,18146,</tspan><tspan x="0" dy="10.67">Km: 5: 22635,</tspan><tspan x="0" dy="10.67">Km: 6: 27319,27316,</tspan><tspan x="0" dy="10.67">Km: 7: 31998,32190,</tspan></text></g>
<g id="n43_36" transform="translate(2337,1791.5)"><ellipse class="nd" rx="110" ry="104"/><text class="bg" y="-53.5">2</text><text class="t" y="-41.5"><tspan x="0">ID: 43.36 KEY: 22763</tspan><tspan x="0" dy="10.67">Parents: 36.26,36.31,</tspan><tspan x="0" dy="10.67">Sons: 53.43,50.43,56.43,55.43,</tspan><tspan x="0" dy="10.67">Km: 0: 1,</tspan><tspan x="0" dy="10.67">Km: 1: 4112,</tspan><tspan x="0" dy="10.67">Km: 2: 9173,</tspan><tspan x="0" dy="10.67">Km: 3: 13594,13599,</tspan><tspan x="0" dy="10.67">Km: 4: 18340,18020,</tspan><tspan x="0" dy="10.67">Km: 5: 22763,</tspan><tspan x="0" dy="10.67">Km: 6: 27314,27319,</tspan><tspan x="0" dy="10.67">Km: 7: 31870,32190,</tspan></text></g>
<g id="n44_39" transform="translate(2589,1791.5)"><ellipse class="nd" rx="110" ry="104"/><text class="bg" y="-53.5">3</text><text class="t" y="-41.5"><tspan x="0">ID: 44.39 KEY: 22956</tspan><tspan x="0" dy="10.67">Parents: 39.27,39.26,</tspan><tspan x="0" dy="10.67">Sons: 53.44,50.44,56.44,51.44,</tspan><tspan x="0" dy="10.67">Km: 0: 1,</tspan><tspan x="0" dy="10.67">Km: 1: 4112,</tspan><tspan x="0" dy="10.67">Km: 2: 9173,</tspan><tspan x="0" dy="10.67">Km: 3: 13594,13595,</tspan><tspan x="0" dy="10.67">Km: 4: 18023,18087,</tspan><tspan x="0" dy="10.67">Km: 5: 22956,</tspan><tspan x="0" dy="10.67">Km: 6: 27379,27378,</tspan><tspan x="0" dy="10.67">Km: 7: 31934,31870,</tspan></text></g>
<g id="n44_34" transform="translate(2831,1791.5)"><ellipse class="nd" rx="110" ry="104"/><text class="bg" y="-53.5">3</text><text class="t" y="-41.5"><tspan x="0">ID: 44.34 KEY: 22636</tspan><tspan x="0" dy="10.67">Parents: 34.31,34.27,</tspan><tspan x="0" dy="10.67">Sons: 51.44,56.44,53.44,55.44,</tspan><tspan x="0" dy="10.67">Km: 0: 1,</tspan><tspan x="0" dy="10.67">Km: 1: 4112,</tspan><tspan x="0" dy="10.67">Km: 2: 9173,</tspan><tspan x="0" dy="10.67">Km: 3: 13595,13599,</tspan><tspan x="0" dy="10.67">Km: 4: 18082,18338,</tspan><tspan x="0" dy="10.67">Km: 5: 22636,</tspan><tspan x="0" dy="10.67">Km: 6: 27379,27383,</tspan><tspan x="0" dy="10.67">Km: 7: 31934,32190,</tspan></text></g>
<g id="n44_35" transform="translate(3073,1791.5)"><ellipse class="nd" rx="110" ry="104"/><text class="bg" y="-53.5">3</text><text class="t" y="-41.5"><tspan x="0">ID: 44.35 KEY: 22700</tspan><tspan x="0" dy="10.67">Parents: 35.31,35.26,</tspan><tspan x="0" dy="10.67">Sons: 50.44,55.44,56.44,53.44,</tspan><tspan x="0" dy="10.67">Km: 0: 1,</tspan><tspan x="0" dy="10.67">Km: 1: 4112,</tspan><tspan x="0" dy="10.67">Km: 2: 9173,</tspan><tspan x="0" dy="10.67">Km: 3: 13599,13594,</tspan><tspan x="0" dy="10.67">Km: 4: 18339,18019,</tspan><tspan x="0" dy="10.67">Km: 5: 22700,</tspan><tspan x="0" dy="10.67">Km: 6: 27378,27383,</tspan><tspan x="0" dy="10.67">Km: 7: 32190,31870,</tspan></text></g>
<g id="n51_47" transform="translate(639,2108.8)"><ellipse class="nd" rx="84" ry="104"/><text class="bg" y="-53.5">2</text><text class="t" y="-41.5"><tspan x="0">ID: 51.47 KEY: 27571</tspan><tspan x="0" dy="10.67">Parents: 47.34,47.36,</tspan><tspan x="0" dy="10.67">Sons: 62.51,</tspan><tspan x="0" dy="10.67">Km: 0: 1,</tspan><tspan x="0" dy="10.67">Km: 1: 4112,</tspan><tspan x="0" dy="10.67">Km: 2: 9173,</tspan><tspan x="0" dy="10.67">Km: 3: 13596,13594,</tspan><tspan x="0" dy="10.67">Km: 4: 18146,18020,</tspan><tspan x="0" dy="10.67">Km: 5: 22767,22639,</tspan><tspan x="0" dy="10.67">Km: 6: 27571,</tspan><tspan x="0" dy="10.67">Km: 7: 31934,</tspan></text></g>
<g id="n51_42" transform="translate(831,2108.8)"><ellipse class="nd" rx="84" ry="104"/><text class="bg" y="-53.5">2</text><text class="t" y="-41.5"><tspan x="0">ID: 51.42 KEY: 27251</tspan><tspan x="0" dy="10.67">Parents: 42.36,42.39,</tspan><tspan x="0" dy="10.67">Sons: 62.51,</tspan><tspan x="0" dy="10.67">Km: 0: 1,</tspan><tspan x="0" dy="10.67">Km: 1: 4112,</tspan><tspan x="0" dy="10.67">Km: 2: 9173,</tspan><tspan x="0" dy="10.67">Km: 3: 13596,13599,</tspan><tspan x="0" dy="10.67">Km: 4: 18340,18151,</tspan><tspan x="0" dy="10.67">Km: 5: 22954,22762,</tspan><tspan x="0" dy="10.67">Km: 6: 27251,</tspan><tspan x="0" dy="10.67">Km: 7: 31934,</tspan></text></g>
<g id="n51_44" transform="translate(1023,2108.8)"><ellipse class="nd" rx="84" ry="104"/><text class="bg" y="-53.5">2</text><text class="t" y="-41.5"><tspan x="0">ID: 51.44 KEY: 27379</tspan><tspan x="0" dy="10.67">Parents: 44.39,44.34,</tspan><tspan x="0" dy="10.67">Sons: 62.51,</tspan><tspan x="0" dy="10.67">Km: 0: 1,</tspan><tspan x="0" dy="10.67">Km: 1: 4112,</tspan><tspan x="0" dy="10.67">Km: 2: 9173,</tspan><tspan x="0" dy="10.67">Km: 3: 13599,13594,</tspan><tspan x="0" dy="10.67">Km: 4: 18338,18023,</tspan><tspan x="0" dy="10.67">Km: 5: 22636,22956,</tspan><tspan x="0" dy="10.67">Km: 6: 27379,</tspan><tspan x="0" dy="10.67">Km: 7: 31934,</tspan></text></g>
<g id="n52_47" transform="translate(1223,2108.8)"><ellipse class="nd" rx="84" ry="104"/><text class="bg" y="-53.5">3</text><text class="t" y="-41.5"><tspan x="0">ID: 52.47 KEY: 27572</tspan><tspan x="0" dy="10.67">Parents: 47.35,47.34,</tspan><tspan x="0" dy="10.67">Sons: 62.52,</tspan><tspan x="0" dy="10.67">Km: 0: 1,</tspan><tspan x="0" dy="10.67">Km: 1: 4112,</tspan><tspan x="0" dy="10.67">Km: 2: 9173,</tspan><tspan x="0" dy="10.67">Km: 3: 13595,13594,</tspan><tspan x="0" dy="10.67">Km: 4: 18019,18082,</tspan><tspan x="0" dy="10.67">Km: 5: 22639,22703,</tspan><tspan x="0" dy="10.67">Km: 6: 27572,</tspan><tspan x="0" dy="10.67">Km: 7: 31998,</tspan></text></g>
<g id="n52_42" transform="translate(1415,2108.8)"><ellipse class="nd" rx="84" ry="104"/><text class="bg" y="-53.5">3</text><text class="t" y="-41.5"><tspan x="0">ID: 52.42 KEY: 27252</tspan><tspan x="0" dy="10.67">Parents: 42.35,42.39,</tspan><tspan x="0" dy="10.67">Sons: 62.52,</tspan><tspan x="0" dy="10.67">Km: 0: 1,</tspan><tspan x="0" dy="10.67">Km: 1: 4112,</tspan><tspan x="0" dy="10.67">Km: 2: 9173,</tspan><tspan x="0" dy="10.67">Km: 3: 13599,13595,</tspan><tspan x="0" dy="10.67">Km: 4: 18339,18087,</tspan><tspan x="0" dy="10.67">Km: 5: 22698,22954,</tspan><tspan x="0" dy="10.67">Km: 6: 27252,</tspan><tspan x="0" dy="10.67">Km: 7: 31998,</tspan></text></g>
<g id="n52_43" transform="translate(1607,2108.8)"><ellipse class="nd" rx="84" ry="104"/><text class="bg" y="-53.5">3</text><text class="t" y="-41.5"><tspan x="0">ID: 52.43 KEY: 27316</tspan><tspan x="0" dy="10.67">Parents: 43.39,43.34,</tspan><tspan x="0" dy="10.67">Sons: 62.52,</tspan><tspan x="0" dy="10.67">Km: 0: 1,</tspan><tspan x="0" dy="10.67">Km: 1: 4112,</tspan><tspan x="0" dy="10.67">Km: 2: 9173,</tspan><tspan x="0" dy="10.67">Km: 3: 13599,13594,</tspan><tspan x="0" dy="10.67">Km: 4: 18023,18338,</tspan><tspan x="0" dy="10.67">Km: 5: 22635,22955,</tspan><tspan x="0" dy="10.67">Km: 6: 27316,</tspan><tspan x="0" dy="10.67">Km: 7: 31998,</tspan></text></g>
<g id="n50_47" transform="translate(1807,2108.8)"><ellipse class="nd" rx="84" ry="104"/><text class="bg" y="-53.5">1</text><text class="t" y="-41.5"><tspan x="0">ID: 50.47 KEY: 27570</tspan><tspan x="0" dy="10.67">Parents: 47.36,47.35,</tspan><tspan x="0" dy="10.67">Sons: 62.50,</tspan><tspan x="0" dy="10.67">Km: 0: 1,</tspan><tspan x="0" dy="10.67">Km: 1: 4112,</tspan><tspan x="0" dy="10.67">Km: 2: 9173,</tspan><tspan x="0" dy="10.67">Km: 3: 13595,13596,</tspan><tspan x="0" dy="10.67">Km: 4: 18084,18147,</tspan><tspan x="0" dy="10.67">Km: 5: 22767,22703,</tspan><tspan x="0" dy="10.67">Km: 6: 27570,</tspan><tspan x="0" dy="10.67">Km: 7: 31870,</tspan></text></g>
<g id="n50_43" transform="translate(1999,2108.8)"><ellipse class="nd" rx="84" ry="104"/><text class="bg" y="-53.5">1</text><text class="t" y="-41.5"><tspan x="0">ID: 50.43 KEY: 27314</tspan><tspan x="0" dy="10.67">Parents: 43.39,43.36,</tspan><tspan x="0" dy="10.67">Sons: 62.50,</tspan><tspan x="0" dy="10.67">Km: 0: 1,</tspan><tspan x="0" dy="10.67">Km: 1: 4112,</tspan><tspan x="0" dy="10.67">Km: 2: 9173,</tspan><tspan x="0" dy="10.67">Km: 3: 13596,13599,</tspan><tspan x="0" dy="10.67">Km: 4: 18151,18340,</tspan><tspan x="0" dy="10.67">Km: 5: 22763,22955,</tspan><tspan x="0" dy="10.67">Km: 6: 27314,</tspan><tspan x="0" dy="10.67">Km: 7: 31870,</tspan></text></g>
<g id="n50_44" transform="translate(2191,2108.8)"><ellipse class="nd" rx="84" ry="104"/><text class="bg" y="-53.5">1</text><text class="t" y="-41.5"><tspan x="0">ID: 50.44 KEY: 27378</tspan><tspan x="0" dy="10.67">Parents: 44.39,44.35,</tspan><tspan x="0" dy="10.67">Sons: 62.50,</tspan><tspan x="0" dy="10.67">Km: 0: 1,</tspan><tspan x="0" dy="10.67">Km: 1: 4112,</tspan><tspan x="0" dy="10.67">Km: 2: 9173,</tspan><tspan x="0" dy="10.67">Km: 3: 13595,13599,</tspan><tspan x="0" dy="10.67">Km: 4: 18339,18087,</tspan><tspan x="0" dy="10.67">Km: 5: 22700,22956,</tspan><tspan x="0" dy="10.67">Km: 6: 27378,</tspan><tspan x="0" dy="10.67">Km: 7: 31870,</tspan></text></g>
<g id="n55_42" transform="translate(2391,2108.8)"><ellipse class="nd" rx="84" ry="104"/><text class="bg" y="-53.5">6</text><text class="t" y="-41.5"><tspan x="0">ID: 55.42 KEY: 27255</tspan><tspan x="0" dy="10.67">Parents: 42.36,42.35,</tspan><tspan x="0" dy="10.67">Sons: 62.55,</tspan><tspan x="0" dy="10.67">Km: 0: 1,</tspan><tspan x="0" dy="10.67">Km: 1: 4112,</tspan><tspan x="0" dy="10.67">Km: 2: 9173,</tspan><tspan x="0" dy="10.67">Km: 3: 13596,13595,</tspan><tspan x="0" dy="10.67">Km: 4: 18147,18084,</tspan><tspan x="0" dy="10.67">Km: 5: 22762,22698,</tspan><tspan x="0" dy="10.67">Km: 6: 27255,</tspan><tspan x="0" dy="10.67">Km: 7: 32190,</tspan></text></g>
<g id="n55_43" transform="translate(2583,2108.8)"><ellipse class="nd" rx="84" ry="104"/><text class="bg" y="-53.5">6</text><text class="t" y="-41.5"><tspan x="0">ID: 55.43 KEY: 27319</tspan><tspan x="0" dy="10.67">Parents: 43.36,43.34,</tspan><tspan x="0" dy="10.67">Sons: 62.55,</tspan><tspan x="0" dy="10.67">Km: 0: 1,</tspan><tspan x="0" dy="10.67">Km: 1: 4112,</tspan><tspan x="0" dy="10.67">Km: 2: 9173,</tspan><tspan x="0" dy="10.67">Km: 3: 13596,13594,</tspan><tspan x="0" dy="10.67">Km: 4: 18146,18020,</tspan><tspan x="0" dy="10.67">Km: 5: 22635,22763,</tspan><tspan x="0" dy="10.67">Km: 6: 27319,</tspan><tspan x="0" dy="10.67">Km: 7: 32190,</tspan></text></g>
<g id="n55_44" transform="translate(2775,2108.8)"><ellipse class="nd" rx="84" ry="104"/><text class="bg" y="-53.5">6</text><text class="t" y="-41.5"><tspan x="0">ID: 55.44 KEY: 27383</tspan><tspan x="0" dy="10.67">Parents: 44.34,44.35,</tspan><tspan x="0" dy="10.67">Sons: 62.55,</tspan><tspan x="0" dy="10.67">Km: 0: 1,</tspan><tspan x="0" dy="10.67">Km: 1: 4112,</tspan><tspan x="0" dy="10.67">Km: 2: 9173,</tspan><tspan x="0" dy="10.67">Km: 3: 13595,13594,</tspan><tspan x="0" dy="10.67">Km: 4: 18019,18082,</tspan><tspan x="0" dy="10.67">Km: 5: 22700,22636,</tspan><tspan x="0" dy="10.67">Km: 6: 27383,</tspan><tspan x="0" dy="10.67">Km: 7: 32190,</tspan></text></g>
<g id="n62_51" transform="translate(1177,2426)"><ellipse class="nd" rx="166" ry="104"/><text class="bg" y="-53.5">5</text><text class="t" y="-41.5"><tspan x="0">ID: 62.51 KEY: 31934</tspan><tspan x="0" dy="10.67">Parents: 51.42,51.47,51.44,</tspan><tspan x="0" dy="10.67">Sons: </tspan><tspan x="0" dy="10.67">Km: 0: 1,</tspan><tspan x="0" dy="10.67">Km: 1: 4112,</tspan><tspan x="0" dy="10.67">Km: 2: 9173,</tspan><tspan x="0" dy="10.67">Km: 3: 13594,13599,13596,</tspan><tspan x="0" dy="10.67">Km: 4: 18020,18023,18338,18340,18151,18146,</tspan><tspan x="0" dy="10.67">Km: 5: 22956,22954,22639,22636,22762,22767,</tspan><tspan x="0" dy="10.67">Km: 6: 27571,27379,27251,</tspan><tspan x="0" dy="10.67">Km: 7: 31934,</tspan></text></g>
<g id="n62_52" transform="translate(1530,2426)"><ellipse class="nd" rx="166" ry="104"/><text class="bg" y="-53.5">5</text><text class="t" y="-41.5"><tspan x="0">ID: 62.52 KEY: 31998</tspan><tspan x="0" dy="10.67">Parents: 52.42,52.43,52.47,</tspan><tspan x="0" dy="10.67">Sons: </tspan><tspan x="0" dy="10.67">Km: 0: 1,</tspan><tspan x="0" dy="10.67">Km: 1: 4112,</tspan><tspan x="0" dy="10.67">Km: 2: 9173,</tspan><tspan x="0" dy="10.67">Km: 3: 13599,13594,13595,</tspan><tspan x="0" dy="10.67">Km: 4: 18339,18338,18082,18023,18019,18087,</tspan><tspan x="0" dy="10.67">Km: 5: 22703,22639,22955,22635,22698,22954,</tspan><tspan x="0" dy="10.67">Km: 6: 27252,27316,27572,</tspan><tspan x="0" dy="10.67">Km: 7: 31998,</tspan></text></g>
<g id="n62_50" transform="translate(1884,2426)"><ellipse class="nd" rx="166" ry="104"/><text class="bg" y="-53.5">5</text><text class="t" y="-41.5"><tspan x="0">ID: 62.50 KEY: 31870</tspan><tspan x="0" dy="10.67">Parents: 50.43,50.44,50.47,</tspan><tspan x="0" dy="10.67">Sons: </tspan><tspan x="0" dy="10.67">Km: 0: 1,</tspan><tspan x="0" dy="10.67">Km: 1: 4112,</tspan><tspan x="0" dy="10.67">Km: 2: 9173,</tspan><tspan x="0" dy="10.67">Km: 3: 13595,13599,13596,</tspan><tspan x="0" dy="10.67">Km: 4: 18084,18340,18147,18087,18151,18339,</tspan><tspan x="0" dy="10.67">Km: 5: 22956,22763,22767,22700,22703,22955,</tspan><tspan x="0" dy="10.67">Km: 6: 27570,27314,27378,</tspan><tspan x="0" dy="10.67">Km: 7: 31870,</tspan></text></g>
<g id="n62_55" transform="translate(2237,2426)"><ellipse class="nd" rx="166" ry="104"/><text class="bg" y="-53.5">5</text><text class="t" y="-41.5"><tspan x="0">ID: 62.55 KEY: 32190</tspan><tspan x="0" dy="10.67">Parents: 55.42,55.43,55.44,</tspan><tspan x="0" dy="10.67">Sons: </tspan><tspan x="0" dy="10.67">Km: 0: 1,</tspan><tspan x="0" dy="10.67">Km: 1: 4112,</tspan><tspan x="0" dy="10.67">Km: 2: 9173,</tspan><tspan x="0" dy="10.67">Km: 3: 13594,13595,13596,</tspan><tspan x="0" dy="10.67">Km: 4: 18019,18147,18020,18146,18082,18084,</tspan><tspan x="0" dy="10.67">Km: 5: 22763,22762,22700,22698,22635,22636,</tspan><tspan x="0" dy="10.67">Km: 6: 27319,27383,27255,</tspan><tspan x="0" dy="10.67">Km: 7: 32190,</tspan></text></g>
</g>
</svg>
